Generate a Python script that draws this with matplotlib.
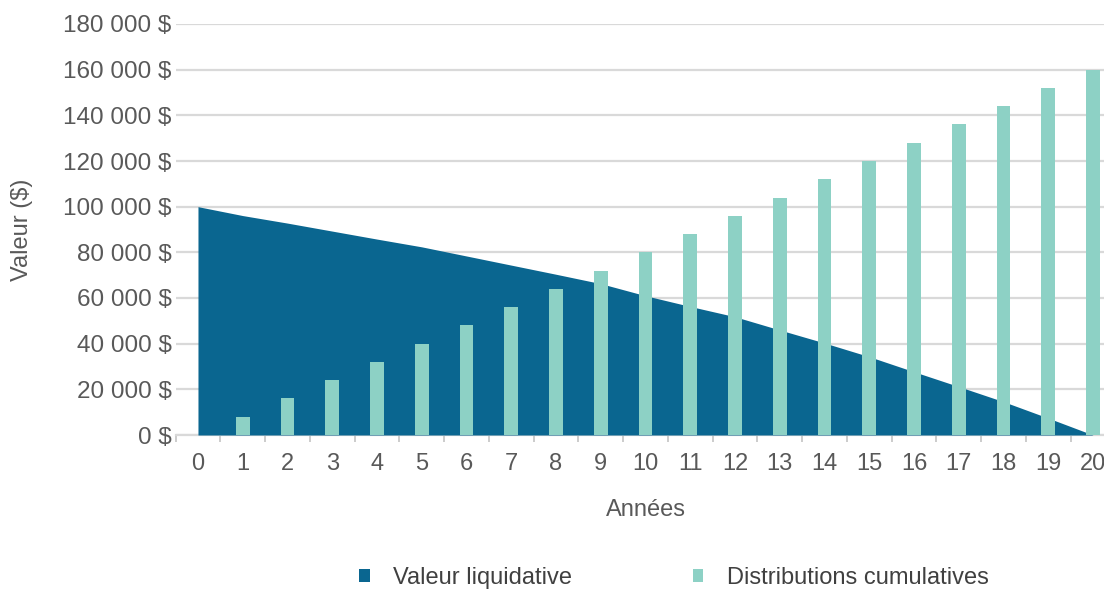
import matplotlib
matplotlib.use("Agg")
import matplotlib.pyplot as plt
from matplotlib.ticker import FixedLocator, FuncFormatter
from matplotlib.patches import Patch

plt.rcParams['font.family'] = ['Liberation Sans', 'DejaVu Sans']

years = list(range(0, 21))
valeur_liquidative = [100000, 96100, 92800, 89300, 85800, 82400, 78400, 74400,
                      70400, 66300, 61000, 56300, 51800, 46000, 40300, 34300,
                      27700, 21200, 14600, 7400, 0]
distributions_cumulatives = [0, 8000, 16000, 24000, 32000, 40000, 48000, 56000,
                             64000, 72000, 80000, 88000, 96000, 104000, 112000,
                             120000, 128000, 136000, 144000, 152000, 160000]
y_ticks = [0, 20000, 40000, 60000, 80000, 100000, 120000, 140000, 160000, 180000]

navy = '#0a6690'
teal = '#8dd1c5'
grid_col = '#d9d9d9'
text_col = '#595959'

fig = plt.figure(figsize=(11.04, 5.89), dpi=100)
# plot area runs slightly past the right edge of the canvas
left, right = 175.6 / 1104, 1115.4 / 1104
bottom, top = (589 - 435) / 589, (589 - 24) / 589
ax = fig.add_axes([left, bottom, right - left, top - bottom])

ax.fill_between(years, valeur_liquidative, 0, color=navy, linewidth=0, zorder=2)
ax.bar(years[1:], distributions_cumulatives[1:], width=0.31, color=teal,
       linewidth=0, zorder=3)

ax.set_xlim(-0.5, 20.5)
ax.set_ylim(0, 180000)

ax.yaxis.set_major_locator(FixedLocator(y_ticks))
ax.yaxis.set_major_formatter(FuncFormatter(
    lambda v, p: f"{int(v):,} $".replace(",", " ")))
ax.set_xticks(years)
ax.set_xticklabels([str(y) for y in years])
ax.xaxis.set_minor_locator(FixedLocator([y + 0.5 for y in range(-1, 21)]))

ax.grid(axis='y', color=grid_col, linewidth=1.6, zorder=0)
ax.set_axisbelow(True)
for s in ['top', 'right', 'left']:
    ax.spines[s].set_visible(False)
ax.spines['bottom'].set_color(grid_col)
ax.spines['bottom'].set_linewidth(1.6)
ax.spines['bottom'].set_zorder(1)

ax.tick_params(axis='y', length=0, pad=3, labelsize=17.5, labelcolor=text_col)
ax.tick_params(axis='x', which='major', length=0, pad=13, labelsize=17,
               labelcolor=text_col)
ax.tick_params(axis='x', which='minor', length=5, width=1.3, color='#c8c8c8')

fig.text(22 / 1104, 1 - 230 / 589, 'Valeur ($)', rotation=90, ha='center',
         va='center', fontsize=17, color=text_col)
fig.text(646 / 1104, 1 - 510 / 589, 'Années', ha='center', va='center',
         fontsize=17, color=text_col)

handles = [Patch(facecolor=navy, edgecolor='none', label='Valeur liquidative'),
           Patch(facecolor=teal, edgecolor='none', label='Distributions cumulatives')]
fig.legend(handles=handles, loc='center', bbox_to_anchor=(674 / 1104, 1 - 578 / 589),
           ncol=2, frameon=False, fontsize=17, handlelength=0.45, handleheight=0.45,
           handletextpad=1.0, columnspacing=5.1, labelcolor='#404040',
           borderpad=0, borderaxespad=0)

fig.savefig('out.png', dpi=100)
